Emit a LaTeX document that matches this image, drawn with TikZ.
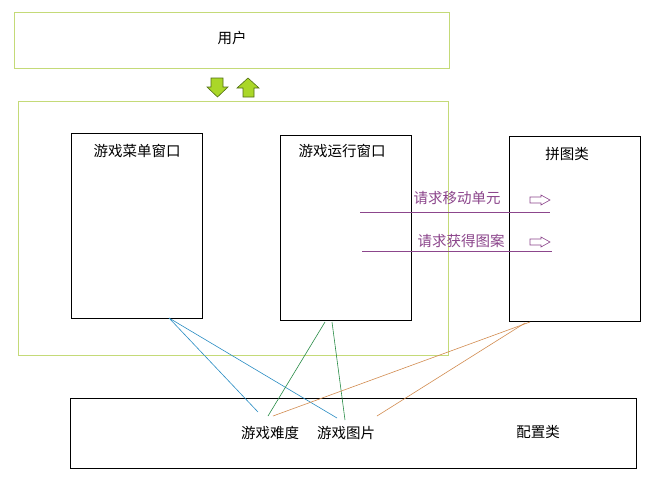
\documentclass[tikz,border=0pt]{standalone}
\usepackage{fontspec}
\setmainfont{Noto Sans CJK SC}
\definecolor{boxgreen}{RGB}{196,218,120}
\definecolor{arrfill}{RGB}{170,215,40}
\definecolor{arrline}{RGB}{80,110,20}
\definecolor{purp}{RGB}{140,70,140}
\definecolor{lblue}{RGB}{40,140,195}
\definecolor{lgreen}{RGB}{40,140,70}
\definecolor{lorange}{RGB}{210,140,80}
\begin{document}
\begin{tikzpicture}[x=1pt,y=-1pt,
  gbox/.style={draw=boxgreen,line width=0.9pt,inner sep=0pt},
  kbox/.style={draw=black,line width=0.8pt,inner sep=0pt},
  txt/.style={font=\fontsize{14.5}{16}\selectfont,inner sep=0pt},
  ptxt/.style={txt,text=purp},
  blk/.style={fill=arrfill,draw=arrline,line width=0.6pt},
  hol/.style={draw=purp,line width=0.6pt,fill=white},
  pline/.style={draw=purp,line width=0.7pt},
  conn/.style={line width=0.6pt}]
\useasboundingbox[fill=white] (0,0) rectangle (662,488);
% boxes
\node[gbox,minimum width=435,minimum height=56] (user) at (231.5,40) {};
\node[txt] (usert) at (232,38) {用户};
\node[gbox,minimum width=430,minimum height=254] (frame) at (233,228) {};
\node[kbox,minimum width=131,minimum height=185] (menu) at (136.5,225.5) {};
\node[txt] (menut) at (137,151) {游戏菜单窗口};
\node[kbox,minimum width=131,minimum height=185] (run) at (345.5,227.5) {};
\node[txt] (runt) at (342,151) {游戏运行窗口};
\node[kbox,minimum width=131,minimum height=185] (puz) at (574.5,228.5) {};
\node[txt] (puzt) at (567,154) {拼图类};
\node[kbox,minimum width=566,minimum height=70] (cfg) at (353,433) {};
\node[txt] (cfgt) at (538,432) {配置类};
\node[txt] (diff) at (270,433) {游戏难度};
\node[txt] (pic) at (346,433) {游戏图片};
% block arrows
\path[blk] (211,78)--(223,78)--(223,87)--(228,87)--(217.5,97)--(207,87)--(211,87)--cycle;
\path[blk] (243,97)--(254,97)--(254,88)--(259,88)--(248,78)--(237,88)--(243,88)--cycle;
% requests
\node[ptxt] (req1) at (457,198) {请求移动单元};
\node[ptxt] (req2) at (461,241) {请求获得图案};
\coordinate (p1a) at (360,212); \coordinate (p1b) at (550,212);
\coordinate (p2a) at (362,251); \coordinate (p2b) at (552,251);
\draw[pline] (p1a) -- (p1b);
\draw[pline] (p2a) -- (p2b);
\path[hol] (530,197)--(541,197)--(541,195)--(550,200)--(541,205)--(541,203)--(530,203)--cycle;
\path[hol] (530,239)--(541,239)--(541,237)--(550,242)--(541,247)--(541,245)--(530,245)--cycle;
% connectors
\coordinate (mb) at (169,318);
\coordinate (rb1) at (325,322);
\coordinate (rb2) at (332,322);
\coordinate (pb1) at (530,322);
\coordinate (pb2) at (525,323);
\coordinate (d1) at (258,412);
\coordinate (d2) at (268,416);
\coordinate (d3) at (273,416);
\coordinate (g1) at (337,418);
\coordinate (g2) at (345,420);
\coordinate (g3) at (377,416);
\draw[conn,lblue] (mb) -- (d1);
\draw[conn,lblue] (mb) -- (g1);
\draw[conn,lgreen] (rb1) -- (d2);
\draw[conn,lgreen] (rb2) -- (g2);
\draw[conn,lorange] (pb1) -- (d3);
\draw[conn,lorange] (pb2) -- (g3);
\end{tikzpicture}
\end{document}
